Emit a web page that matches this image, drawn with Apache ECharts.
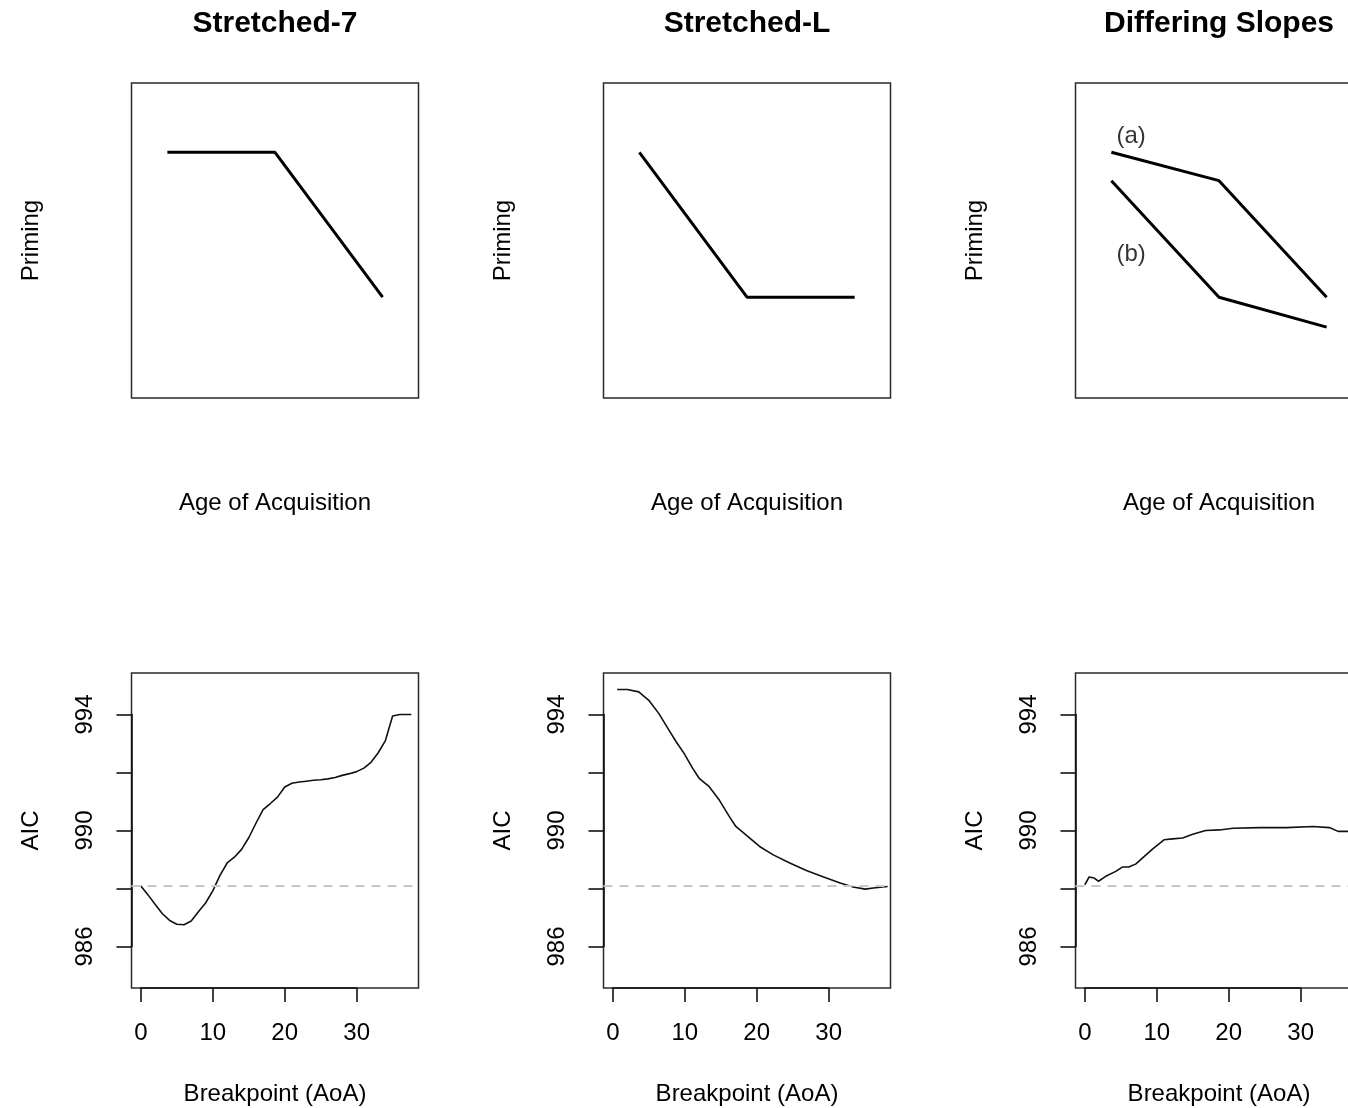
<!DOCTYPE html>
<html>
<head>
<meta charset="utf-8">
<script src="https://cdn.jsdelivr.net/npm/echarts@6/dist/echarts.min.js"></script>
<style>
html,body{margin:0;padding:0;background:#fff;}
#chart{width:1348px;height:1108px;}
</style>
</head>
<body>
<div id="chart"></div>
<script>
// ---------------- DATA ----------------
const panelTitles = ['Stretched-7', 'Stretched-L', 'Differing Slopes'];

// Top row: schematic priming vs age of acquisition (arbitrary units)
const schematicAoA = [1, 4, 7];
const stretched7Priming = [7.8, 7.8, 3.2];
const stretchedLPriming = [7.8, 3.2, 3.2];
const slopesAPriming = [7.8, 6.9, 3.2];
const slopesBPriming = [6.9, 3.2, 2.25];
const slopeLabels = ['(a)', '(b)'];
const slopeLabelAoA = [1.55, 1.55];
const slopeLabelPriming = [8.3, 4.55];

// Bottom row: AIC by breakpoint
const aicTicks = [986, 990, 994];
const referenceAIC = 988.1;

const s7Break = [0, 1, 2, 3, 4, 5, 6, 7, 8, 9, 10, 11, 12, 13, 14, 15, 16, 17, 18, 19, 20, 21, 22, 23, 24, 25, 26, 27, 28, 29, 30, 31, 32, 33, 34, 35, 36, 37.6];
const s7AIC = [988.09, 987.78, 987.45, 987.13, 986.9, 986.77, 986.75, 986.88, 987.2, 987.5, 987.92, 988.45, 988.88, 989.08, 989.35, 989.75, 990.25, 990.72, 990.93, 991.15, 991.5, 991.63, 991.67, 991.7, 991.73, 991.75, 991.78, 991.83, 991.9, 991.96, 992.03, 992.15, 992.35, 992.68, 993.1, 993.95, 994.0, 994.0];

const sLBreak = [0.6, 2.0, 3.6, 5.0, 6.4, 7.8, 8.8, 9.9, 11.1, 12.0, 13.4, 14.8, 16.2, 17.1, 18.5, 20.4, 22.3, 24.6, 26.9, 29.3, 31.6, 33.4, 35.1, 36.2, 38.2];
const sLAIC = [994.86, 994.86, 994.78, 994.49, 994.03, 993.46, 993.06, 992.66, 992.14, 991.8, 991.51, 991.05, 990.48, 990.14, 989.85, 989.45, 989.16, 988.88, 988.62, 988.4, 988.19, 988.05, 987.98, 988.02, 988.07];

const dsBreak = [0, 0.6, 1.3, 1.9, 2.9, 4.3, 5.2, 6.1, 7.1, 8.0, 9.4, 11.0, 12.2, 13.6, 15.0, 16.8, 18.7, 20.6, 24.3, 28.0, 31.7, 34.0, 35.2, 37.6];
const dsAIC = [988.13, 988.4, 988.36, 988.25, 988.42, 988.59, 988.74, 988.74, 988.85, 989.05, 989.36, 989.68, 989.71, 989.74, 989.87, 990.0, 990.02, 990.08, 990.1, 990.1, 990.14, 990.1, 989.97, 989.97];

// ---------------- LAYOUT ----------------
const FONT = '"Liberation Sans", Arial, Helvetica, sans-serif';
const BOX_W = 287, BOX_H = 315;
const BOX_LEFTS = [131.5, 603.5, 1075.5];
const TOP_Y = 83, BOT_Y = 673;
const TOP_X_RANGE = [0, 8], TOP_Y_RANGE = [0, 10];
const BOT_X_RANGE = [-1.3, 38.6], BOT_Y_RANGE = [984.57, 995.43];
const X_TICK_RANGE = [0, 30], Y_TICK_RANGE = [986, 994];

const zip = (a, b) => a.map((v, i) => [v, b[i]]);

const grid = [], xAxis = [], yAxis = [], series = [], title = [];
const hidden = { show: false };

function addGrid(g) { grid.push(Object.assign({ outerBoundsMode: 'none', containLabel: false }, g)); return grid.length - 1; }

BOX_LEFTS.forEach((L, p) => {
  // title
  title.push({
    text: panelTitles[p], left: L + BOX_W / 2, top: 9, textAlign: 'center', padding: 0,
    textStyle: { fontFamily: FONT, fontSize: 30, fontWeight: 'bold', color: '#000' }
  });

  // ---- top panel ----
  const gt = addGrid({ left: L, top: TOP_Y, width: BOX_W, height: BOX_H, show: true, borderColor: '#2a2a2a', borderWidth: 1.5, backgroundColor: 'transparent' });
  xAxis.push({
    gridIndex: gt, type: 'value', min: TOP_X_RANGE[0], max: TOP_X_RANGE[1],
    axisLine: hidden, axisTick: hidden, axisLabel: hidden, splitLine: hidden,
    name: 'Age of Acquisition', nameLocation: 'middle', nameGap: 93,
    nameTextStyle: { fontFamily: FONT, fontSize: 24, color: '#000' }
  });
  yAxis.push({
    gridIndex: gt, type: 'value', min: TOP_Y_RANGE[0], max: TOP_Y_RANGE[1],
    axisLine: hidden, axisTick: hidden, axisLabel: hidden, splitLine: hidden,
    name: 'Priming', nameLocation: 'middle', nameGap: 88,
    nameTextStyle: { fontFamily: FONT, fontSize: 24, color: '#000' }
  });
  const topLine = (data) => ({
    type: 'line', xAxisIndex: xAxis.length - 1, yAxisIndex: yAxis.length - 1,
    data, symbol: 'none', silent: true,
    lineStyle: { color: '#000', width: 3 }
  });
  if (p === 0) series.push(topLine(zip(schematicAoA, stretched7Priming)));
  if (p === 1) series.push(topLine(zip(schematicAoA, stretchedLPriming)));
  if (p === 2) {
    series.push(topLine(zip(schematicAoA, slopesAPriming)));
    series.push(topLine(zip(schematicAoA, slopesBPriming)));
    series.push({
      type: 'scatter', xAxisIndex: xAxis.length - 1, yAxisIndex: yAxis.length - 1,
      symbolSize: 0, silent: true,
      data: slopeLabels.map((t, i) => ({ value: [slopeLabelAoA[i], slopeLabelPriming[i]], name: t })),
      label: { show: true, position: 'inside', formatter: d => d.name, fontFamily: FONT, fontSize: 24, color: '#000', textBorderWidth: 0 }
    });
  }

  // ---- bottom panel (box + data) ----
  const gb = addGrid({ left: L, top: BOT_Y, width: BOX_W, height: BOX_H, show: true, borderColor: '#2a2a2a', borderWidth: 1.5, backgroundColor: 'transparent' });
  xAxis.push({
    gridIndex: gb, type: 'value', min: BOT_X_RANGE[0], max: BOT_X_RANGE[1],
    axisLine: hidden, axisTick: hidden, axisLabel: hidden, splitLine: hidden,
    name: 'Breakpoint (AoA)', nameLocation: 'middle', nameGap: 94,
    nameTextStyle: { fontFamily: FONT, fontSize: 24, color: '#000' }
  });
  yAxis.push({
    gridIndex: gb, type: 'value', min: BOT_Y_RANGE[0], max: BOT_Y_RANGE[1],
    axisLine: hidden, axisTick: hidden, axisLabel: hidden, splitLine: hidden,
    name: 'AIC', nameLocation: 'middle', nameGap: 88,
    nameTextStyle: { fontFamily: FONT, fontSize: 24, color: '#000' }
  });
  const bx = [s7Break, sLBreak, dsBreak][p];
  const by = [s7AIC, sLAIC, dsAIC][p];
  series.push({
    type: 'line', xAxisIndex: xAxis.length - 1, yAxisIndex: yAxis.length - 1,
    data: zip(bx, by), symbol: 'none', silent: true, clip: true,
    lineStyle: { color: '#111', width: 1.6 },
    markLine: {
      silent: true, symbol: 'none', label: { show: false },
      lineStyle: { color: '#c8c8c8', type: [9, 7], width: 2 },
      data: [{ yAxis: referenceAIC }]
    },
    z: 3
  });

  // ---- bottom panel axes (R style, spanning tick range only) ----
  const pxX = BOX_W / (BOT_X_RANGE[1] - BOT_X_RANGE[0]);
  const pxY = BOX_H / (BOT_Y_RANGE[1] - BOT_Y_RANGE[0]);
  const aLeft = L + (X_TICK_RANGE[0] - BOT_X_RANGE[0]) * pxX;
  const aWidth = (X_TICK_RANGE[1] - X_TICK_RANGE[0]) * pxX;
  const aTop = BOT_Y + (BOT_Y_RANGE[1] - Y_TICK_RANGE[1]) * pxY;
  const aHeight = (Y_TICK_RANGE[1] - Y_TICK_RANGE[0]) * pxY;
  const ga = addGrid({ left: aLeft, top: aTop, width: aWidth, height: aHeight, show: false });
  xAxis.push({
    gridIndex: ga, type: 'value', min: X_TICK_RANGE[0], max: X_TICK_RANGE[1], interval: 10,
    position: 'bottom', offset: (BOT_Y + BOX_H) - (aTop + aHeight),
    axisLine: { show: true, onZero: false, lineStyle: { color: '#111', width: 1.6 } },
    axisTick: { show: true, inside: false, length: 14, lineStyle: { color: '#111', width: 1.6 } },
    axisLabel: { show: true, margin: 33, fontFamily: FONT, fontSize: 24, color: '#000', showMinLabel: true, showMaxLabel: true },
    splitLine: hidden
  });
  yAxis.push({
    gridIndex: ga, type: 'value', min: Y_TICK_RANGE[0], max: Y_TICK_RANGE[1], interval: 2,
    position: 'left', offset: aLeft - L,
    axisLine: { show: true, onZero: false, lineStyle: { color: '#111', width: 1.6 } },
    axisTick: { show: true, inside: false, length: 15, lineStyle: { color: '#111', width: 1.6 } },
    axisLabel: {
      show: true, margin: 34, rotate: 90, fontFamily: FONT, fontSize: 24, color: '#000',
      showMinLabel: true, showMaxLabel: true,
      formatter: v => aicTicks.includes(v) ? String(v) : ''
    },
    splitLine: hidden
  });
});

const chart = echarts.init(document.getElementById('chart'), null, { renderer: 'canvas' });
chart.setOption({
  animation: false,
  backgroundColor: '#fff',
  title, grid, xAxis, yAxis, series
});
</script>
</body>
</html>
